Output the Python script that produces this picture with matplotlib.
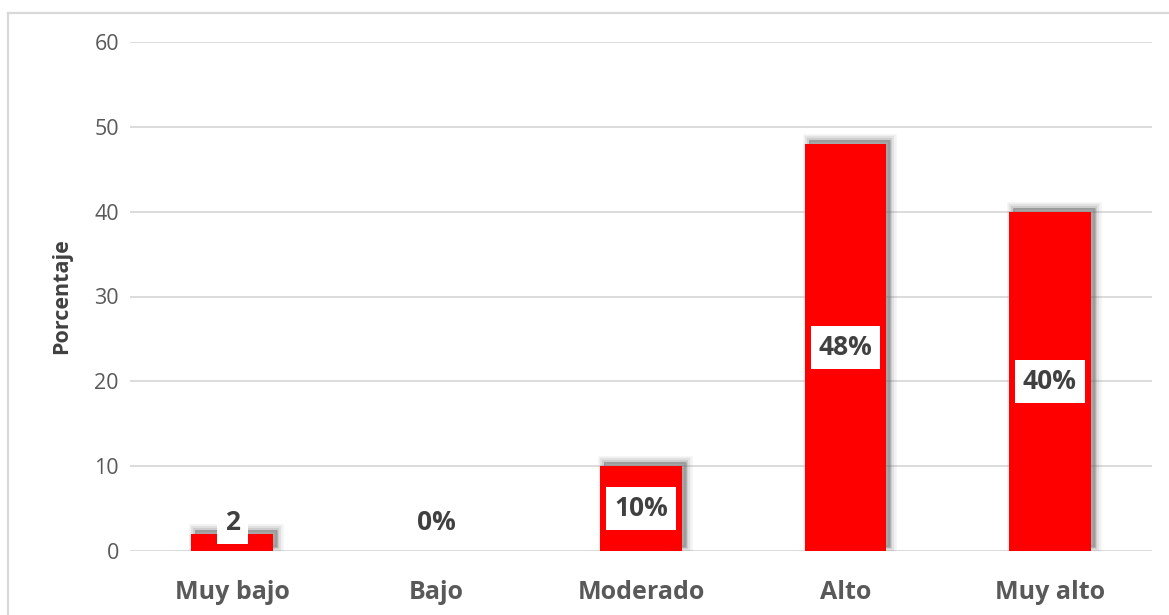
import matplotlib
matplotlib.use("Agg")
import matplotlib.pyplot as plt
from matplotlib.transforms import ScaledTranslation
from matplotlib.lines import Line2D

# Data
categories = ["Muy bajo", "Bajo", "Moderado", "Alto", "Muy alto"]
values = [2, 0, 10, 48, 40]
value_labels = ["2", "0%", "10%", "48%", "40%"]
y_ticks = [0, 10, 20, 30, 40, 50, 60]

FONT = "Open Sans"
RED = "#FF0000"
TICK_GREY = "#595959"
LABEL_GREY = "#404040"
GRID_GREY = "#D9D9D9"

W, H = 1169, 615
fig = plt.figure(figsize=(W / 100, H / 100), dpi=100)
fig.patch.set_facecolor("white")

# Chart-area frame (top and left edges visible)
fig.add_artist(Line2D([8 / W, 8 / W], [0, 1 - 13 / H], transform=fig.transFigure,
                      color=GRID_GREY, lw=1.6))
fig.add_artist(Line2D([8 / W, 1], [1 - 13 / H, 1 - 13 / H], transform=fig.transFigure,
                      color=GRID_GREY, lw=1.6))

ax = fig.add_axes([130 / W, (H - 551) / H, (1152 - 130) / W, (551 - 42) / H])
ax.set_facecolor("white")

x = list(range(len(categories)))
bar_w = 0.4

# Soft drop shadow: stacked translucent copies shifted up and to the right
sx = [xi for xi, v in zip(x, values) if v > 0]
sv = [v for v in values if v > 0]
shift = ScaledTranslation(4 / 100, 4 / 100, fig.dpi_scale_trans)
for lw, a in [(9, 0.08), (6, 0.12), (3, 0.18), (0.5, 0.25)]:
    ax.bar(sx, sv, width=bar_w, color="#6F6F6F", alpha=a,
           edgecolor="#6F6F6F", linewidth=lw, joinstyle="miter",
           transform=ax.transData + shift, zorder=2)

bars = ax.bar(x, values, width=bar_w, color=RED, zorder=3)

# Value labels in white boxes
for xi, v, lab in zip(x, values, value_labels):
    y = max(v / 2, 3.4)
    ax.text(xi, y, lab, ha="center", va="center", fontsize=19, fontweight="bold",
            family=FONT, color=LABEL_GREY, zorder=5,
            bbox=dict(boxstyle="square,pad=0.3", facecolor="white", edgecolor="none"))

ax.set_ylim(0, 60)
ax.set_xlim(-0.5, len(categories) - 0.5)
ax.set_yticks(y_ticks)
ax.set_yticklabels([str(t) for t in y_ticks], family=FONT, fontsize=15.5, color=TICK_GREY)
ax.set_xticks(x)
ax.set_xticklabels(categories, family=FONT, fontsize=18, fontweight="bold", color=TICK_GREY)
ax.tick_params(axis="both", length=0)
ax.tick_params(axis="y", pad=8)
ax.tick_params(axis="x", pad=21)

ax.grid(axis="y", color=GRID_GREY, lw=1.3, zorder=0)
ax.set_axisbelow(True)
for s in ax.spines.values():
    s.set_visible(False)

ax.set_ylabel("Porcentaje", family=FONT, fontsize=15.5, fontweight="bold", color=LABEL_GREY)
ax.yaxis.set_label_coords(-58 / 1022, 0.5)

fig.savefig("out.png", dpi=100, facecolor="white")
